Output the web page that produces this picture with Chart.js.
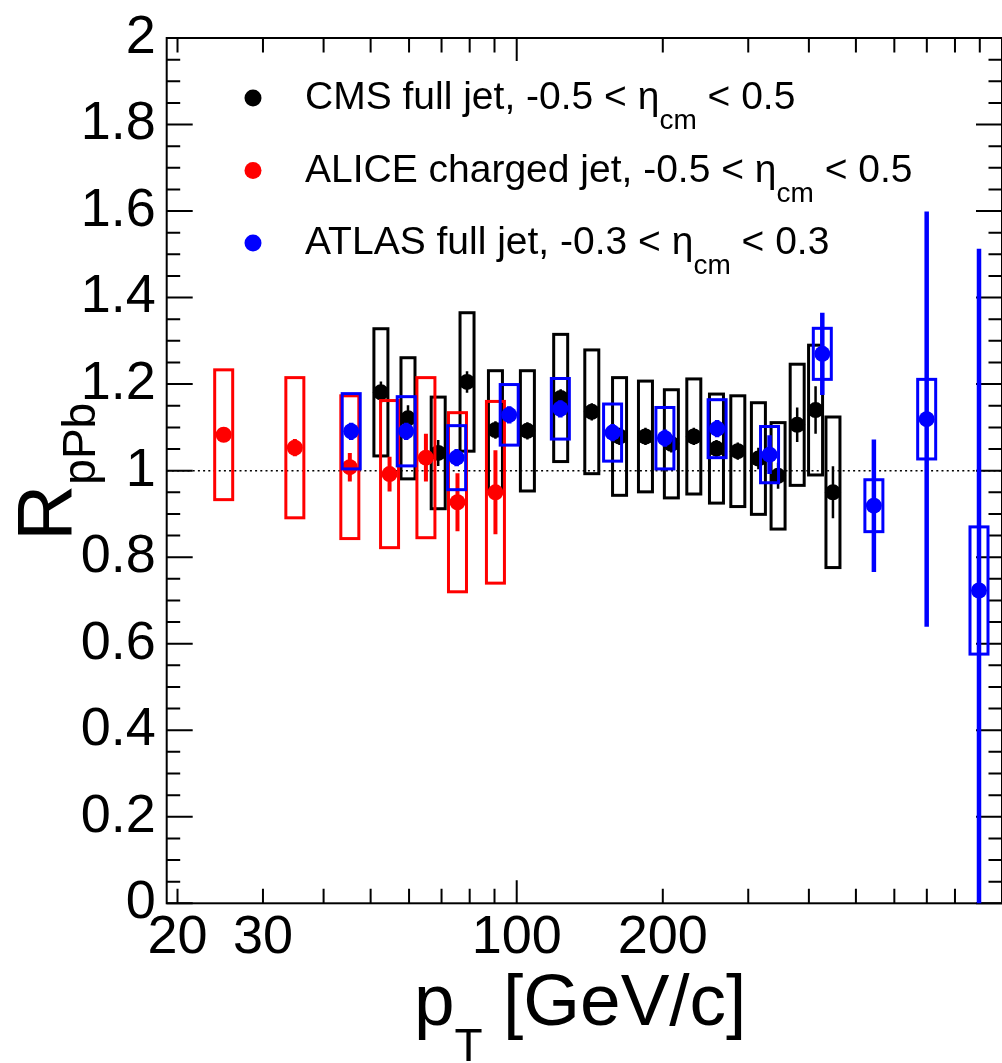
<!DOCTYPE html>
<html>
<head>
<meta charset="utf-8">
<script src="https://cdn.jsdelivr.net/npm/chart.js@4.4.1/dist/chart.umd.min.js"></script>
<style>
  html, body { margin: 0; padding: 0; background: #fff; overflow: hidden; }
  canvas { display: block; }
</style>
</head>
<body>
<canvas id="c" width="1010" height="1063"></canvas>
<script>
// ---- CMS full jet, -0.5 < eta_cm < 0.5 ----
const cmsPt   = [52.5, 59.7, 68.9, 79.0, 90.4, 105.2, 123.2, 142.8, 162.9, 184.2, 208.3, 231.7, 258.0, 285.5, 314.8, 345.6, 378.4, 412.9, 448.4];
const cmsR    = [1.181, 1.121, 1.041, 1.205, 1.094, 1.092, 1.168, 1.136, 1.079, 1.079, 1.062, 1.079, 1.051, 1.045, 1.028, 0.988, 1.106, 1.140, 0.950];
const cmsStat = [0.025, 0.03, 0.03, 0.025, 0.02, 0.02, 0.02, 0.02, 0.02, 0.02, 0.02, 0.02, 0.02, 0.02, 0.025, 0.03, 0.04, 0.055, 0.06];
const cmsSys  = [0.147, 0.140, 0.129, 0.160, 0.137, 0.139, 0.147, 0.143, 0.136, 0.128, 0.125, 0.133, 0.126, 0.128, 0.129, 0.123, 0.140, 0.150, 0.174];

// ---- ALICE charged jet, -0.5 < eta_cm < 0.5 ----
const alicePt   = [24.9, 34.9, 45.3, 54.7, 65.0, 75.5, 90.4];
const aliceR    = [1.083, 1.053, 1.008, 0.992, 1.030, 0.927, 0.950];
const aliceStat = [0.015, 0.02, 0.033, 0.04, 0.055, 0.067, 0.097];
const aliceSys  = [0.150, 0.162, 0.165, 0.170, 0.185, 0.207, 0.210];

// ---- ATLAS full jet, -0.3 < eta_cm < 0.3 ----
const atlasPt   = [45.6, 59.2, 75.2, 96.5, 123.0, 157.6, 202.0, 258.8, 331.9, 426.3, 544.5, 699.5, 896.6];
const atlasR    = [1.091, 1.091, 1.030, 1.129, 1.143, 1.088, 1.075, 1.097, 1.037, 1.270, 0.919, 1.119, 0.723];
const atlasStat = [0.02, 0.02, 0.02, 0.02, 0.02, 0.02, 0.02, 0.02, 0.045, 0.095, 0.153, 0.48, 0.79];
const atlasSys  = [0.087, 0.080, 0.074, 0.070, 0.070, 0.066, 0.071, 0.067, 0.065, 0.059, 0.060, 0.092, 0.147];

// ---- axes ----
const xTickValues = [20, 30, 100, 200];
const xTickLabels = ['20', '30', '100', '200'];
const yTickValues = [0, 0.2, 0.4, 0.6, 0.8, 1, 1.2, 1.4, 1.6, 1.8, 2];
const yTickLabels = ['0', '0.2', '0.4', '0.6', '0.8', '1', '1.2', '1.4', '1.6', '1.8', '2'];
const xMin = 19, xMax = 1000, yMin = 0, yMax = 2;

const FONT = '"Liberation Sans", Arial, Helvetica, sans-serif';

function pts(xs, ys) { return xs.map((x, i) => ({ x: x, y: ys[i] })); }

// systematic boxes and statistical bars, drawn just before each series' markers
const errorPlugin = {
  id: 'errors',
  beforeDatasetDraw(chart, args) {
    const ds = chart.data.datasets[args.index];
    const xs = chart.scales.x, ys = chart.scales.y, a = chart.chartArea;
    const ctx = chart.ctx;
    ctx.save();
    ctx.beginPath();
    ctx.rect(a.left, a.top, a.right - a.left, a.bottom - a.top);
    ctx.clip();
    ctx.strokeStyle = ds.borderColor;
    ds.data.forEach((p, i) => {
      const px = xs.getPixelForValue(p.x);
      const top = ys.getPixelForValue(p.y + ds.sys[i]);
      const bot = ys.getPixelForValue(p.y - ds.sys[i]);
      ctx.lineWidth = 3;
      ctx.strokeRect(px - ds.boxWidth / 2, top, ds.boxWidth, bot - top);
      ctx.lineWidth = ds.statWidth;
      ctx.beginPath();
      ctx.moveTo(px, ys.getPixelForValue(p.y + ds.stat[i]));
      ctx.lineTo(px, ys.getPixelForValue(p.y - ds.stat[i]));
      ctx.stroke();
    });
    ctx.restore();
  }
};

// frame, inward ticks and the reference line at R = 1
const framePlugin = {
  id: 'frame',
  beforeDatasetsDraw(chart) {
    const ctx = chart.ctx, a = chart.chartArea;
    const xs = chart.scales.x, ys = chart.scales.y;
    ctx.save();
    // dotted line at 1
    ctx.strokeStyle = '#000';
    ctx.lineWidth = 1.5;
    ctx.setLineDash([2, 3.2]);
    const y1 = ys.getPixelForValue(1);
    ctx.beginPath(); ctx.moveTo(a.left, y1); ctx.lineTo(a.right, y1); ctx.stroke();
    ctx.setLineDash([]);
    // frame
    ctx.lineWidth = 2;
    ctx.strokeRect(a.left, a.top, a.right - a.left, a.bottom - a.top);
    // x ticks (bottom and top)
    const xt = [];
    for (let d = 10; d <= 100; d *= 10) for (let k = 1; k <= 9; k++) xt.push(k * d);
    xt.push(1000);
    ctx.beginPath();
    xt.forEach(v => {
      if (v < xMin || v > xMax) return;
      const px = xs.getPixelForValue(v);
      const len = (v === 100 || v === 1000) ? 23 : 14.5;
      ctx.moveTo(px, a.bottom); ctx.lineTo(px, a.bottom - len);
      ctx.moveTo(px, a.top); ctx.lineTo(px, a.top + len);
    });
    // y ticks (left and right)
    for (let k = 0; k <= 40; k++) {
      const v = k * 0.05;
      const py = ys.getPixelForValue(v);
      const len = (k % 4 === 0) ? 26 : 13.5;
      ctx.moveTo(a.left, py); ctx.lineTo(a.left + len, py);
      ctx.moveTo(a.right, py); ctx.lineTo(a.right - len, py);
    }
    ctx.stroke();
    ctx.restore();
  }
};

// draw a run of text pieces with sub-scripts
function richText(ctx, x, y, parts) {
  parts.forEach(p => {
    ctx.font = p.size + 'px ' + FONT;
    ctx.fillText(p.t, x, y + (p.dy || 0));
    x += ctx.measureText(p.t).width;
  });
}

const legendRows = [
  { color: '#000000', head: 'CMS full jet, -0.5 < ', tail: ' < 0.5' },
  { color: '#ff0000', head: 'ALICE charged jet, -0.5 < ', tail: ' < 0.5' },
  { color: '#0000ff', head: 'ATLAS full jet, -0.3 < ', tail: ' < 0.3' }
];

const labelPlugin = {
  id: 'labels',
  afterDraw(chart) {
    const ctx = chart.ctx;
    ctx.save();
    ctx.textBaseline = 'alphabetic';
    ctx.textAlign = 'left';
    // legend
    legendRows.forEach((r, i) => {
      const yc = 98 + i * 72.5;
      ctx.fillStyle = r.color;
      ctx.beginPath(); ctx.arc(253, yc, 8.5, 0, Math.PI * 2); ctx.fill();
      ctx.fillStyle = '#000';
      richText(ctx, 305, yc + 11, [
        { t: r.head, size: 39 },
        { t: '\u03B7', size: 39 },
        { t: 'cm', size: 28, dy: 20 },
        { t: r.tail, size: 39 }
      ]);
    });
    // x title
    ctx.fillStyle = '#000';
    richText(ctx, 414, 1025, [
      { t: 'p', size: 73 },
      { t: 'T', size: 46, dy: 36 },
      { t: ' [GeV/c]', size: 73 }
    ]);
    // y title
    ctx.translate(71, 541);
    ctx.rotate(-Math.PI / 2);
    richText(ctx, 0, 0, [
      { t: 'R', size: 78 },
      { t: 'pPb', size: 46, dy: 24 }
    ]);
    ctx.restore();
  }
};

const chart = new Chart(document.getElementById('c'), {
  type: 'scatter',
  data: {
    datasets: [
      { label: 'CMS', data: pts(cmsPt, cmsR), stat: cmsStat, sys: cmsSys, boxWidth: 14, statWidth: 2.5,
        backgroundColor: '#000000', borderColor: '#000000', pointRadius: 8, pointHoverRadius: 8, pointBorderWidth: 0, order: 3 },
      { label: 'ALICE', data: pts(alicePt, aliceR), stat: aliceStat, sys: aliceSys, boxWidth: 18, statWidth: 4,
        backgroundColor: '#ff0000', borderColor: '#ff0000', pointRadius: 8, pointHoverRadius: 8, pointBorderWidth: 0, order: 2 },
      { label: 'ATLAS', data: pts(atlasPt, atlasR), stat: atlasStat, sys: atlasSys, boxWidth: 18, statWidth: 4.5,
        backgroundColor: '#0000ff', borderColor: '#0000ff', pointRadius: 8, pointHoverRadius: 8, pointBorderWidth: 0, order: 1 }
    ]
  },
  options: {
    responsive: false,
    animation: false,
    devicePixelRatio: 1,
    layout: { padding: { left: 0, right: 7.2, top: 29.3, bottom: 0 } },
    plugins: { legend: { display: false }, tooltip: { enabled: false } },
    events: [],
    scales: {
      x: {
        type: 'logarithmic', min: xMin, max: xMax,
        grid: { display: false, drawTicks: false },
        border: { display: false },
        afterBuildTicks: s => { s.ticks = xTickValues.map(v => ({ value: v })); },
        afterFit: s => { s.height = 1063 - 903.3; },
        ticks: {
          autoSkip: false, maxRotation: 0, minRotation: 0, padding: 8, color: '#000',
          font: { family: FONT, size: 54, lineHeight: 1 },
          callback: v => xTickLabels[xTickValues.indexOf(v)]
        }
      },
      y: {
        min: yMin, max: yMax,
        grid: { display: false, drawTicks: false },
        border: { display: false },
        afterBuildTicks: s => { s.ticks = yTickValues.map(v => ({ value: v })); },
        afterFit: s => { s.width = 166.7; },
        ticks: {
          autoSkip: false, padding: 11, color: '#000',
          font: { family: FONT, size: 54, lineHeight: 1 },
          callback: v => yTickLabels[yTickValues.indexOf(v)]
        }
      }
    }
  },
  plugins: [framePlugin, errorPlugin, labelPlugin]
});
</script>
</body>
</html>
